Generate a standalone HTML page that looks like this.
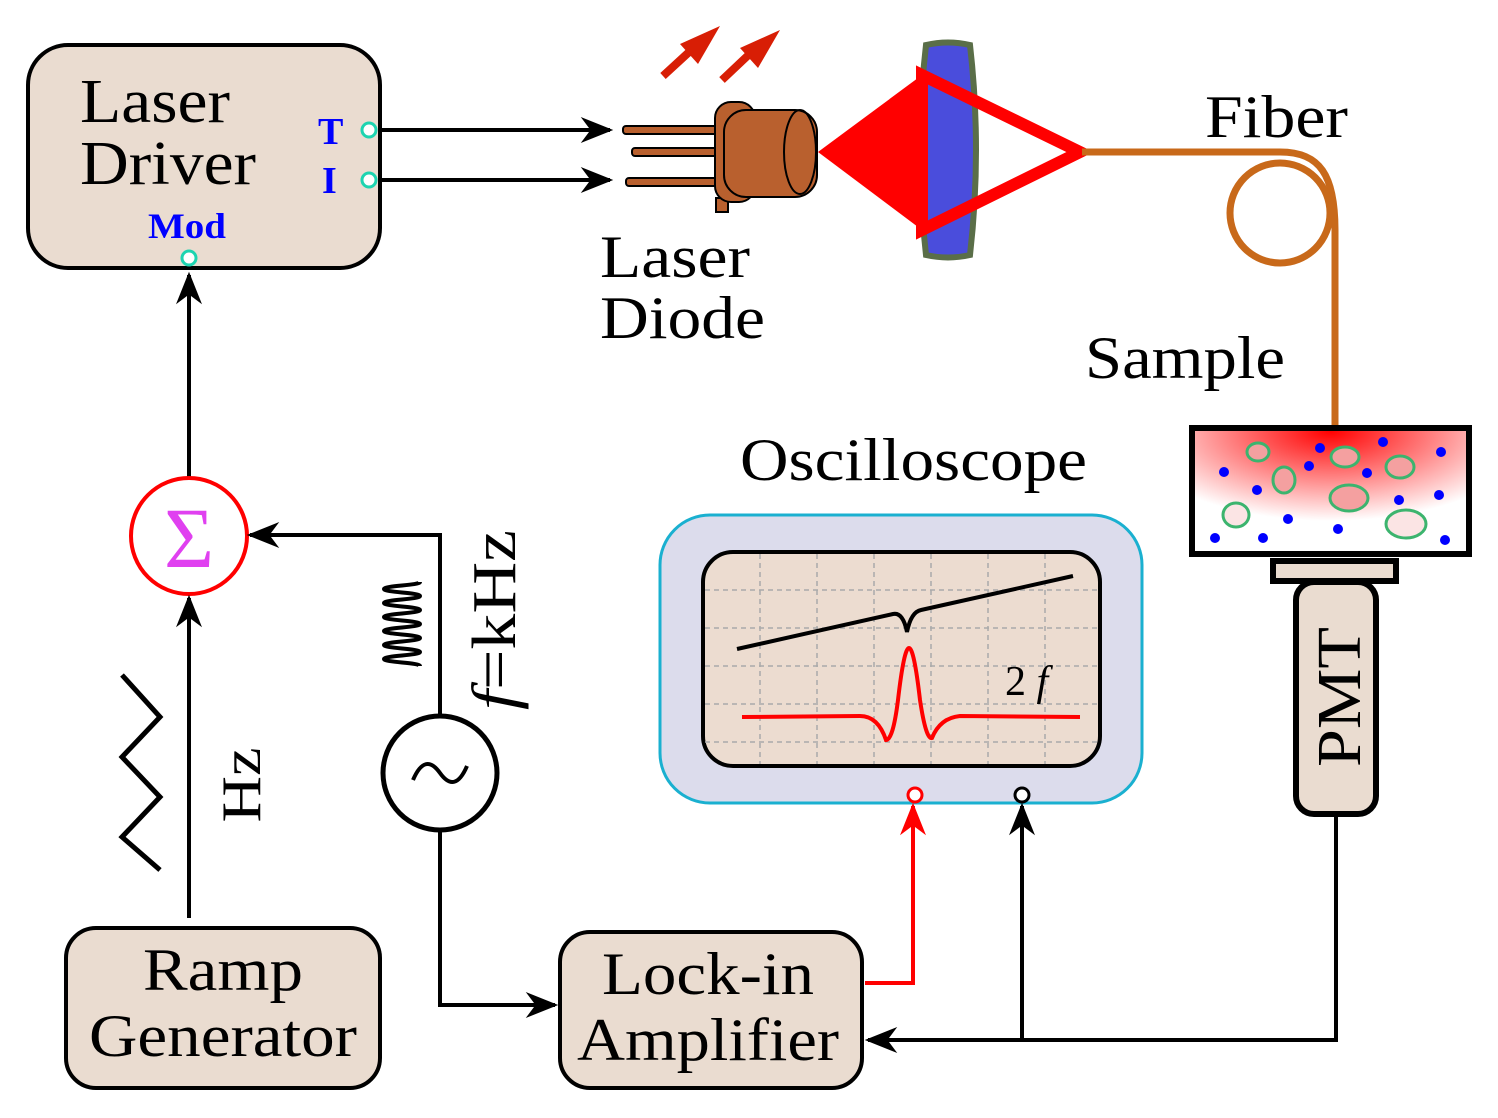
<!DOCTYPE html><html><head><style>body{margin:0;background:#fff}svg{display:block}text{font-family:"Liberation Serif",serif}</style></head><body>
<svg width="1498" height="1118" viewBox="0 0 1498 1118" xmlns="http://www.w3.org/2000/svg">
<defs>
<marker id="ak" viewBox="0 0 10 8" markerWidth="34" markerHeight="26" refX="9" refY="4" orient="auto" markerUnits="userSpaceOnUse"><path d="M0,0 L10,4 L0,8 L3,4z" fill="#000"/></marker>
<marker id="ar" viewBox="0 0 10 8" markerWidth="34" markerHeight="26" refX="9" refY="4" orient="auto" markerUnits="userSpaceOnUse"><path d="M0,0 L10,4 L0,8 L3,4z" fill="#f00"/></marker>
<radialGradient id="g" cx="0.5" cy="0" r="0.75"><stop offset="0" stop-color="#f00"/><stop offset="1" stop-color="#f00" stop-opacity="0"/></radialGradient>
</defs>
<rect x="28" y="45" width="352" height="223" rx="40" fill="#eadcd0" stroke="#000" stroke-width="4"/>
<text x="80" y="122" font-size="62" textLength="150" lengthAdjust="spacingAndGlyphs">Laser</text>
<text x="80" y="184" font-size="62" textLength="176" lengthAdjust="spacingAndGlyphs">Driver</text>
<text x="318" y="144" font-size="38" font-weight="bold" fill="#00f">T</text>
<text x="322" y="193" font-size="38" font-weight="bold" fill="#00f">I</text>
<text x="148" y="238" font-size="36" font-weight="bold" fill="#00f" textLength="78" lengthAdjust="spacingAndGlyphs">Mod</text>
<circle cx="369" cy="130" r="7" fill="#fff" stroke="#1dd4b0" stroke-width="3"/>
<circle cx="369" cy="180" r="7" fill="#fff" stroke="#1dd4b0" stroke-width="3"/>
<circle cx="189" cy="258" r="7" fill="#fff" stroke="#1dd4b0" stroke-width="3"/>
<line x1="380" y1="130" x2="610" y2="130" stroke="#000" stroke-width="4" marker-end="url(#ak)"/>
<line x1="380" y1="180" x2="610" y2="180" stroke="#000" stroke-width="4" marker-end="url(#ak)"/>
<g stroke="#d81e05" stroke-width="8" fill="#d81e05"><line x1="663" y1="76" x2="700" y2="42"/><line x1="722" y1="80" x2="758" y2="46"/></g>
<polygon points="720,26 680,44 698,64" fill="#d81e05"/><polygon points="780,30 740,48 758,68" fill="#d81e05"/>
<g stroke="#000" stroke-width="2" fill="#b9602e">
<rect x="623" y="126" width="100" height="8" rx="3"/><rect x="632" y="148" width="90" height="8" rx="3"/><rect x="626" y="178" width="96" height="8" rx="3"/>
<rect x="716" y="198" width="12" height="14"/>
<rect x="715" y="102" width="40" height="100" rx="16"/>
<rect x="724" y="110" width="93" height="87" rx="22"/>
<ellipse cx="800" cy="152" rx="16" ry="42" fill="none"/>
</g>
<polygon points="818,152 922,75 922,230" fill="#f00"/>
<path d="M926,45 Q948,40 970,45 Q982,150 970,255 Q948,260 926,255 Q914,150 926,45z" fill="#4a4ddc" stroke="#5a6e48" stroke-width="6"/>
<polygon points="922,75 1080,152 922,230" fill="none" stroke="#f00" stroke-width="12"/>
<path d="M1082,152 L1280,152 C1320,152 1335,175 1335,230 L1335,425" fill="none" stroke="#c8691a" stroke-width="7"/>
<circle cx="1280" cy="213" r="50" fill="none" stroke="#c8691a" stroke-width="7"/>
<text x="1205" y="137" font-size="60" textLength="143" lengthAdjust="spacingAndGlyphs">Fiber</text>
<text x="600" y="277" font-size="60" textLength="150" lengthAdjust="spacingAndGlyphs">Laser</text>
<text x="600" y="338" font-size="60" textLength="165" lengthAdjust="spacingAndGlyphs">Diode</text>
<text x="1085" y="378" font-size="60" textLength="200" lengthAdjust="spacingAndGlyphs">Sample</text>
<rect x="1192" y="428" width="277" height="126" fill="#fff" stroke="#000" stroke-width="6"/>
<rect x="1195" y="431" width="271" height="120" fill="url(#g)"/>
<g fill="#f4a0a0" stroke="#3cb46e" stroke-width="3">
<ellipse cx="1258" cy="452" rx="11" ry="9"/><ellipse cx="1284" cy="480" rx="11" ry="13"/><ellipse cx="1345" cy="457" rx="14" ry="10"/><ellipse cx="1400" cy="467" rx="14" ry="11"/><ellipse cx="1349" cy="498" rx="19" ry="13"/><ellipse cx="1236" cy="515" rx="13" ry="12" fill="#fbe4e4"/><ellipse cx="1406" cy="524" rx="20" ry="14" fill="#fbe4e4"/></g>
<g fill="#00f"><circle cx="1224" cy="472" r="5"/><circle cx="1257" cy="490" r="5"/><circle cx="1309" cy="466" r="5"/><circle cx="1320" cy="448" r="5"/><circle cx="1367" cy="473" r="5"/><circle cx="1383" cy="442" r="5"/><circle cx="1441" cy="452" r="5"/><circle cx="1439" cy="495" r="5"/><circle cx="1399" cy="500" r="5"/><circle cx="1288" cy="519" r="5"/><circle cx="1338" cy="529" r="5"/><circle cx="1263" cy="538" r="5"/><circle cx="1215" cy="538" r="5"/><circle cx="1445" cy="540" r="5"/></g>
<rect x="1273" y="561" width="123" height="20" fill="#eadcd0" stroke="#000" stroke-width="6"/>
<rect x="1296" y="582" width="80" height="232" rx="18" fill="#eadcd0" stroke="#000" stroke-width="6"/>
<text transform="translate(1360,697) rotate(-90)" font-size="62" text-anchor="middle" textLength="140" lengthAdjust="spacingAndGlyphs">PMT</text>
<text x="740" y="480" font-size="60" textLength="347" lengthAdjust="spacingAndGlyphs">Oscilloscope</text>
<rect x="660" y="515" width="482" height="288" rx="50" fill="#dcdcec" stroke="#1ab0d0" stroke-width="3"/>
<rect x="703" y="552" width="397" height="214" rx="30" fill="#ecdcd0" stroke="#000" stroke-width="4"/>
<g stroke="#aaa" stroke-width="1.5" stroke-dasharray="5,4">
<line x1="760" y1="554" x2="760" y2="764"/><line x1="817" y1="554" x2="817" y2="764"/><line x1="874" y1="554" x2="874" y2="764"/><line x1="931" y1="554" x2="931" y2="764"/><line x1="988" y1="554" x2="988" y2="764"/><line x1="1045" y1="554" x2="1045" y2="764"/>
<line x1="705" y1="590" x2="1098" y2="590"/><line x1="705" y1="628" x2="1098" y2="628"/><line x1="705" y1="666" x2="1098" y2="666"/><line x1="705" y1="704" x2="1098" y2="704"/><line x1="705" y1="742" x2="1098" y2="742"/></g>
<path d="M737,649 L893,614 Q903,612 907,632 Q911,612 921,610 L1073,576" fill="none" stroke="#000" stroke-width="4"/>
<path d="M742,717 L860,716 Q878,716 886,740 Q893,740 898,700 Q904,648 909,648 Q914,648 920,700 Q926,740 932,738 Q940,718 960,716 L1080,717" fill="none" stroke="#f00" stroke-width="4"/>
<text x="1005" y="695" font-size="42">2<tspan font-style="italic"> f</tspan></text>
<circle cx="915" cy="795" r="7" fill="#fff" stroke="#f00" stroke-width="3"/>
<circle cx="1022" cy="795" r="7" fill="#fff" stroke="#000" stroke-width="3"/>
<polyline points="1336,815 1336,1040 868,1040" fill="none" stroke="#000" stroke-width="4" marker-end="url(#ak)"/>
<line x1="1022" y1="1040" x2="1022" y2="806" stroke="#000" stroke-width="4" marker-end="url(#ak)"/>
<polyline points="865,983 913,983 913,806" fill="none" stroke="#f00" stroke-width="4" marker-end="url(#ar)"/>
<line x1="189" y1="477" x2="189" y2="275" stroke="#000" stroke-width="4" marker-end="url(#ak)"/>
<circle cx="189" cy="536" r="58" fill="#fff" stroke="#f00" stroke-width="4"/>
<text x="189" y="567" font-size="86" fill="#e040f0" text-anchor="middle">Σ</text>
<line x1="189" y1="918" x2="189" y2="598" stroke="#000" stroke-width="4" marker-end="url(#ak)"/>
<polyline points="440,716 440,535 250,535" fill="none" stroke="#000" stroke-width="4" marker-end="url(#ak)"/>
<circle cx="440" cy="773" r="57" fill="#fff" stroke="#000" stroke-width="5"/>
<path d="M413,780 Q425,752 440,773 Q455,794 467,766" fill="none" stroke="#000" stroke-width="4"/>
<polyline points="440,830 440,1005 555,1005" fill="none" stroke="#000" stroke-width="4" marker-end="url(#ak)"/>
<polyline points="122,675 160,717 122,757 160,797 122,837 160,870" fill="none" stroke="#000" stroke-width="5"/>
<text transform="translate(260,785) rotate(-90)" font-size="56" text-anchor="middle" textLength="75" lengthAdjust="spacingAndGlyphs">Hz</text>
<path d="M420,582 C420,585.5 384,585.5 384,589 C384,592.5 420,592.5 420,596 C420,599.5 384,599.5 384,603 C384,606.5 420,606.5 420,610 C420,613.5 384,613.5 384,617 C384,620.5 420,620.5 420,624 C420,627.5 384,627.5 384,631 C384,634.5 420,634.5 420,638 C420,641.5 384,641.5 384,645 C384,648.5 420,648.5 420,652 C420,655.5 384,655.5 384,659 C384,662.5 420,662.5 420,666" fill="none" stroke="#000" stroke-width="4"/>
<text transform="translate(515,620) rotate(-90)" font-size="62" text-anchor="middle" textLength="180" lengthAdjust="spacingAndGlyphs"><tspan font-style="italic">f</tspan>=kHz</text>
<rect x="66" y="928" width="314" height="160" rx="30" fill="#eadcd0" stroke="#000" stroke-width="4"/>
<text x="223" y="990" font-size="60" text-anchor="middle" textLength="160" lengthAdjust="spacingAndGlyphs">Ramp</text>
<text x="223" y="1056" font-size="60" text-anchor="middle" textLength="268" lengthAdjust="spacingAndGlyphs">Generator</text>
<rect x="560" y="932" width="302" height="156" rx="30" fill="#eadcd0" stroke="#000" stroke-width="4"/>
<text x="708" y="994" font-size="60" text-anchor="middle" textLength="212" lengthAdjust="spacingAndGlyphs">Lock-in</text>
<text x="708" y="1060" font-size="60" text-anchor="middle" textLength="262" lengthAdjust="spacingAndGlyphs">Amplifier</text>
</svg>
</body></html>
